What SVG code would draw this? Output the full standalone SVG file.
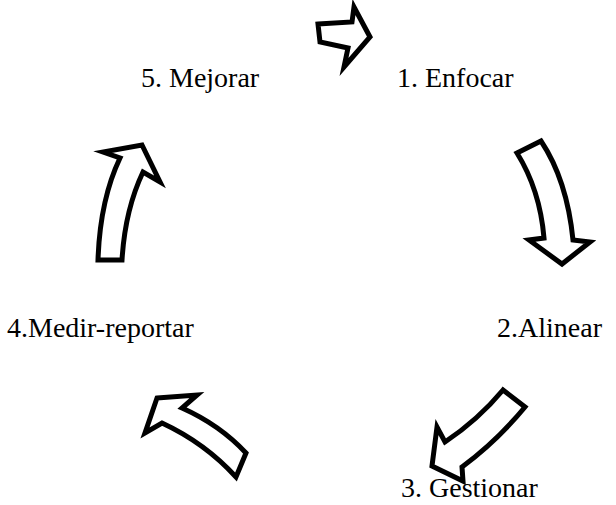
<svg xmlns="http://www.w3.org/2000/svg" width="616" height="505" viewBox="0 0 616 505">
<style>
.lbl{font-family:"Liberation Serif","Times New Roman",serif;font-size:28px;fill:#000}
.arr{fill:#fff;stroke:#000;stroke-width:5;stroke-linejoin:miter;stroke-miterlimit:10}
</style>
<rect width="616" height="505" fill="#fff"/>
<g id="n1"><text class="lbl" x="397" y="87">1. Enfocar</text></g>
<g id="n2"><text class="lbl" x="497" y="337">2.Alinear</text></g>
<g id="n3"><text class="lbl" x="401" y="497">3. Gestionar</text></g>
<g id="n4"><text class="lbl" x="7" y="337">4.Medir-reportar</text></g>
<g id="n5"><text class="lbl" x="141" y="87">5. Mejorar</text></g>
<g id="connectors">
<path class="arr" d="M318,24 L352,22 L354,7 L370,37 L344,67 L348,48 L320,42 Z"/>
<path class="arr" d="M517,153 L541,141 Q567,180 573,240 L590,242 L562,264 L529,240 L544,238 Q540,190 517,153 Z"/>
<path class="arr" d="M503,390 L525,407 Q497,441 462,467 L463,481 L432,466 L437,427 L445,442 Q478,420 503,390 Z"/>
<path class="arr" d="M157,398 L197,395 L182,408 Q220,425 246,453 L236,477 Q205,443 162,423 L145,433 Z"/>
<path class="arr" d="M142,145 L160,182 L143,172 Q125,210 122,260 L98,260 Q100,200 120,158 L103,152 Z"/>
</g>
</svg>
